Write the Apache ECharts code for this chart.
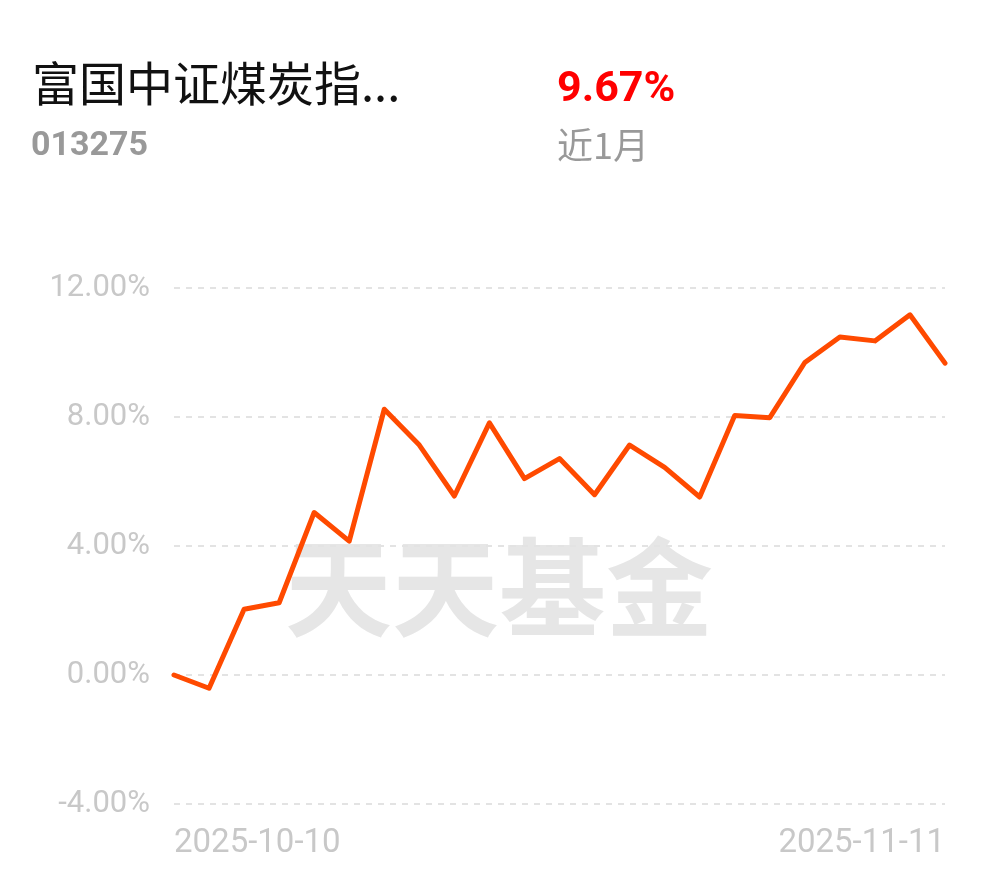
<!DOCTYPE html>
<html>
<head>
<meta charset="utf-8">
<script src="https://cdn.jsdelivr.net/npm/echarts@6/dist/echarts.min.js"></script>
<style>
html,body{margin:0;padding:0;background:#fff;}
#chart{width:990px;height:878px;}
</style>
</head>
<body>
<div id="chart"></div>
<script>
const fundName = '富国中证煤炭指...';
const fundCode = '013275';
const periodReturn = '9.67%';
const periodLabel = '近1月';
const watermark = '天天基金';

const dates = ['2025-10-10','2025-10-13','2025-10-14','2025-10-15','2025-10-16','2025-10-17',
  '2025-10-20','2025-10-21','2025-10-22','2025-10-23','2025-10-24',
  '2025-10-27','2025-10-28','2025-10-29','2025-10-30','2025-10-31',
  '2025-11-03','2025-11-04','2025-11-05','2025-11-06','2025-11-07',
  '2025-11-10','2025-11-11'];
const returns = [0.00,-0.41,2.04,2.24,5.04,4.15,8.24,7.13,5.55,7.82,6.09,6.71,5.59,7.13,6.44,5.52,8.05,7.98,9.69,10.48,10.36,11.17,9.67];
const yMin = -4, yMax = 12, yStep = 4;

const chart = echarts.init(document.getElementById('chart'), null, {renderer:'canvas'});
chart.setOption({
  backgroundColor:'#ffffff',
  animation:false,
  grid:{left:174,right:45,top:288,bottom:74,containLabel:false},
  graphic:[
    {type:'text',left:32,top:60,style:{text:fundName,font:'47px "Noto Sans CJK SC"',fill:'#111111',textVerticalAlign:'middle'}},
    {type:'text',left:31,top:129,style:{text:fundCode,font:'bold 34px Roboto',fill:'#999999',textVerticalAlign:'middle'}},
    {type:'text',left:557,top:69,style:{text:periodReturn,font:'bold 43px Roboto',fill:'#ff0000',textVerticalAlign:'middle'}},
    {type:'text',left:557,top:127,style:{text:periodLabel,font:'36px "Noto Sans CJK SC"',fill:'#999999',textVerticalAlign:'middle'}},
    {type:'text',left:285,top:534,z:-1,style:{text:watermark,font:'bold 107px "Noto Sans CJK SC"',fill:'#e6e6e6'}}
  ],
  xAxis:{
    type:'category',data:dates,boundaryGap:false,
    axisLine:{show:false},axisTick:{show:false},splitLine:{show:false},
    axisLabel:{
      interval:0,
      formatter:function(v,i){return (i===0||i===dates.length-1)?v:'';},
      color:'#c8c8c8',fontSize:33,fontFamily:'Roboto',margin:23,
      alignMinLabel:'left',alignMaxLabel:'right'
    }
  },
  yAxis:{
    type:'value',min:yMin,max:yMax,interval:yStep,
    axisLine:{show:false},axisTick:{show:false},
    axisLabel:{formatter:function(v){return v.toFixed(2)+'%';},color:'#c8c8c8',fontSize:31,fontFamily:'Roboto',margin:24},
    splitLine:{show:true,lineStyle:{color:'#e3e3e3',width:2,type:[6,6]}}
  },
  series:[{
    type:'line',data:returns,showSymbol:false,symbol:'none',
    lineStyle:{color:'#ff4a00',width:5,join:'round',cap:'round'},
    z:5
  }]
});
</script>
</body>
</html>
